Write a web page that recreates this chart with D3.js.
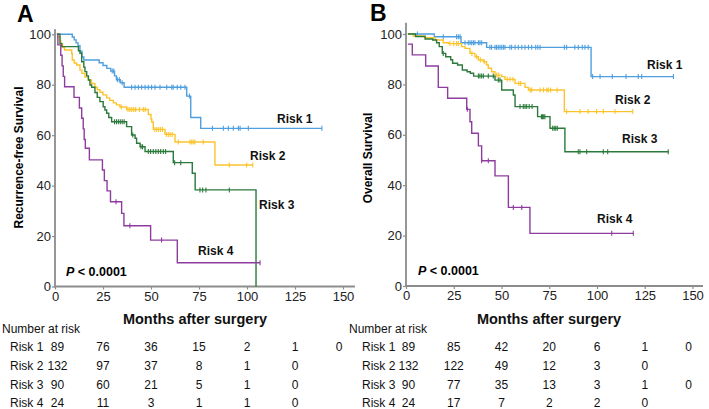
<!DOCTYPE html>
<html><head><meta charset="utf-8">
<script src="https://cdn.jsdelivr.net/npm/d3@7"></script>
<style>body{margin:0;background:#fff}svg{display:block;font-family:Arial,"Liberation Sans",sans-serif}</style>
</head><body><svg id="c" width="709" height="409"></svg>
<script>
// ---------- DATA ----------
const timeTicks = [0,25,50,75,100,125,150];
const survTicks = [0,20,40,60,80,100];
const riskNames = ["Risk 1","Risk 2","Risk 3","Risk 4"];
const colors = ["#4f9fdf","#fcc42c","#2b7a3b","#8e3d9e"];

// Panel A: recurrence-free survival, steps [time, survival%]
const rfsRisk1 = [[1,100],[9,98.9],[10,97.8],[11,96.6],[12,95.5],[13,93.3],[14,91.0],[15,89.8],[23,88.7],[25,87.6],[27,86.5],[29,85.4],[31,83.5],[32,82.0],[34,80.8],[36,79.0],[68.6,75.5],[70.7,67],[75.9,62.7]];
const rfsRisk1End = 139;
const rfsRisk1Cens = [29.8,30.6,32.5,33.5,35,39.9,41.7,43.4,45.1,46.9,48.6,50.3,52.1,54.7,58.2,60.8,61.6,63.7,65.5,67.7,70,82,87.7,90.3,92.9,95.5,96.4,100.7,139];
const rfsRisk2 = [[1,100],[1.5,99],[2.5,97.7],[3,96.2],[4,94.7],[5,93.8],[8.7,92.4],[9,89.8],[10,88.6],[11.3,87.8],[13,85.8],[14,84.5],[15.6,83],[17.4,81.9],[19,80.5],[20.8,79],[22,78],[23.4,77],[25,76],[26.9,74.8],[28.5,73.8],[30.4,72.8],[32,72],[33.8,71.2],[37.3,70.2],[48.6,68.2],[50,66.5],[50.4,65.2],[51.2,62.3],[57.3,60.3],[62.5,57.3],[83.3,48.2]];
const rfsRisk2End = 103;
const rfsRisk2Cens = [34.5,38,39,40,41,42,44,46,47,52,53,54,55,56,58,59,60,61,64.2,70.3,71.2,72,72.9,77.2,90.8,99.8,103];
const rfsRisk3 = [[1,100],[2.6,96.4],[3.5,95.1],[12.2,93.5],[13,92.5],[13.9,89.1],[15,87],[15.6,85.2],[16.5,83.5],[17.4,81.9],[18.2,79.9],[19.1,79],[20.8,76.9],[22,75],[23.4,73.3],[25.1,71.3],[26,70],[26.9,68.7],[28,67],[29.5,65.3],[37.3,63.4],[39.9,60.1],[41.7,58.8],[42.5,56.8],[44.3,55.4],[46.9,53.5],[61.6,49.1],[71.5,44.9],[73,38.3],[104.7,0]];
const rfsRisk3End = 104.7;
const rfsRisk3Cens = [31,32,33,34,35,36,40.5,44.8,45.6,48.6,49.8,51.2,52.5,53.8,55,56.4,57.6,62.3,65.5,75.5,76.9,78.6,90.8];
const rfsRisk4 = [[1,100],[1.5,95.8],[3,91.7],[3.7,87.5],[4.3,83.3],[5,79.2],[9.9,75],[12.7,70.8],[13.9,66.7],[14.7,62.5],[15.2,58.3],[15.8,54.8],[17.9,50.2],[24.7,46.2],[25.7,42],[27.1,37.9],[28.9,33.6],[34.7,29],[35.9,24.1],[49.8,18.4],[63.7,9.4]];
const rfsRisk4End = 106.8;
const rfsRisk4Cens = [31.8,39,55.5,106.8];

// Panel B: overall survival
const osRisk1 = [[1,100],[14.8,98.9],[28.8,96.5],[42.2,94.7],[96.9,83.1]];
const osRisk1End = 140;
const osRisk1Cens = [6,19.5,26.5,27.4,28.3,30.9,32.6,33.5,34.4,35.3,36.1,37.9,38.7,39.6,43.9,44.8,46.6,47.4,48.3,49.2,50.1,51,51.8,54.4,55.3,57.1,58.8,60.6,62.3,64.1,65.8,67.9,69,70.2,82.9,84.1,88.4,90.2,92.3,93.7,95.4,97.7,101.6,108,115.2,121.6,123.4,140];
const osRisk2 = [[1,100],[3.8,99.2],[9.9,98.5],[15.2,97.6],[19.5,96.5],[22.2,96.2],[29.1,95],[30.9,94.3],[33.5,92.3],[36.1,91],[37.9,89.7],[40.5,89],[42.2,87.7],[43.1,86.4],[44.8,85],[46.6,83.7],[50.1,83.1],[51.8,82],[57.1,80.4],[62.3,78.8],[64.1,77.8],[82.9,69.2]];
const osRisk2End = 118.7;
const osRisk2Cens = [23,25,26.5,27.4,34.5,37,39,41,47.5,48.5,53,54.5,56,59,60,65,65.8,70.2,72,73.7,74.5,75.7,79.1,84.1,91.1,95.4,99.8,103.3,109.4,118.7];
const osRisk3 = [[1,100],[5,99],[10,98],[14,97.6],[16,96.5],[17.4,95],[19,92.3],[20.8,91],[23.4,89.8],[24.4,88.4],[27,87.7],[29.5,85.7],[32,85],[33.7,84.4],[35.4,83.3],[46.6,81.7],[50.1,77.8],[56.2,75.8],[57.1,71.2],[68.9,67.2],[75.4,62.6],[83.2,53.3]];
const osRisk3End = 137.3;
const osRisk3Cens = [19.5,37.9,38.7,39.6,40.5,43.1,45.7,48.3,49.2,59.7,61.4,62.3,63.2,64.5,66,70.9,71.5,72.1,72.7,76.8,77.6,78.4,79.2,90.2,91.1,94.6,103.3,105.6,137.3];
const osRisk4 = [[1,96],[3.3,91.7],[10.3,87.3],[16.9,78.8],[21.8,74.5],[31.8,70.1],[33.5,65.2],[34.4,60.6],[37.9,55.6],[39.6,49.7],[46.6,43.7],[53.6,31.2],[64.9,20.9]];
const osRisk4End = 119;
const osRisk4Cens = [32.1,39.6,43.1,56.2,60.6,107.7,119];

const atRiskA = [[89,76,36,15,2,1,0],[132,97,37,8,1,0],[90,60,21,5,1,0],[24,11,3,1,1,0]];
const atRiskB = [[89,85,42,20,6,1,0],[132,122,49,12,3,0],[90,77,35,13,3,1,0],[24,17,7,2,2,0]];

// ---------- DRAW ----------
const svg = d3.select("#c");
const panels = [
  {letter:"A", ytitle:"Recurrence-free Survival",
   curves:[[rfsRisk1,rfsRisk1End,rfsRisk1Cens],[rfsRisk2,rfsRisk2End,rfsRisk2Cens],[rfsRisk3,rfsRisk3End,rfsRisk3Cens],[rfsRisk4,rfsRisk4End,rfsRisk4Cens]],
   atRisk:atRiskA, xr:[55,343], yr:[286.5,34.3], axisTopV:102, xEndV:156.2,
   letterPos:[17,22], ytitlePos:[23,157.5], xtitleX:195, tableX:[2,10],
   labelPos:[[277,118.7],[250,156],[259,205],[198,250.7]], pPos:[66,276]},
  {letter:"B", ytitle:"Overall Survival",
   curves:[[osRisk1,osRisk1End,osRisk1Cens],[osRisk2,osRisk2End,osRisk2Cens],[osRisk3,osRisk3End,osRisk3Cens],[osRisk4,osRisk4End,osRisk4Cens]],
   atRisk:atRiskB, xr:[406,692.5], yr:[286,34], axisTopV:104.5, xEndV:155.5,
   letterPos:[370,21], ytitlePos:[372,158], xtitleX:549, tableX:[349,362],
   labelPos:[[647,65],[615,100],[622,139],[597,219]], pPos:[418,275]}
];

function survAt(steps, t){
  let s = steps[0][1];
  for (const [tt,ss] of steps){ if (tt<=t) s=ss; }
  return s;
}

panels.forEach(p=>{
  const x = d3.scaleLinear().domain([0,150]).range(p.xr);
  const y = d3.scaleLinear().domain([0,100]).range(p.yr);
  const g = svg.append("g");

  // axes
  const gx = g.append("g").attr("transform",`translate(0,${y(0)})`)
    .call(d3.axisBottom(x).tickValues(timeTicks).tickSize(3).tickPadding(2));
  gx.select(".domain").remove();
  gx.selectAll(".tick line").attr("stroke","#8c8c8c").attr("stroke-width",1.2);
  gx.selectAll(".tick text").attr("font-size",13).attr("fill","#222").attr("font-family","Arial, Liberation Sans, sans-serif");
  const gy = g.append("g").attr("transform",`translate(${x(0)},0)`)
    .call(d3.axisLeft(y).tickValues(survTicks).tickSize(3).tickPadding(1));
  gy.select(".domain").remove();
  gy.selectAll(".tick line").attr("stroke","#8c8c8c").attr("stroke-width",1.2);
  gy.selectAll(".tick text").attr("font-size",13).attr("fill","#222").attr("font-family","Arial, Liberation Sans, sans-serif");
  g.append("line").attr("x1",x(0)).attr("x2",x(p.xEndV)).attr("y1",y(0)).attr("y2",y(0))
    .attr("stroke","#8c8c8c").attr("stroke-width",1.8);
  g.append("line").attr("x1",x(0)).attr("x2",x(0)).attr("y1",y(0)+0.9).attr("y2",y(p.axisTopV))
    .attr("stroke","#8c8c8c").attr("stroke-width",1.8);

  // curves
  const line = d3.line().x(d=>x(d[0])).y(d=>y(d[1])).curve(d3.curveStepAfter);
  p.curves.forEach((c,i)=>{
    const [steps,end,cens] = c;
    const pts = steps.concat([[end, steps[steps.length-1][1]]]);
    g.append("path").attr("d",line(pts)).attr("fill","none")
      .attr("stroke",colors[i]).attr("stroke-width",1.4);
    g.selectAll(null).data(cens).enter().append("line")
      .attr("x1",d=>x(d)).attr("x2",d=>x(d))
      .attr("y1",d=>y(survAt(steps,d))-2.5).attr("y2",d=>y(survAt(steps,d))+2.5)
      .attr("stroke",colors[i]).attr("stroke-width",1.1);
    g.append("text").attr("x",p.labelPos[i][0]).attr("y",p.labelPos[i][1]+4.3)
      .attr("font-size",12).attr("font-weight","bold").attr("fill","#111").text(riskNames[i]);
  });

  // texts
  g.append("text").attr("x",p.letterPos[0]).attr("y",p.letterPos[1])
    .attr("font-size",23).attr("font-weight","bold").attr("fill","#000").text(p.letter);
  g.append("text").attr("transform",`translate(${p.ytitlePos[0]},${p.ytitlePos[1]}) rotate(-90)`)
    .attr("text-anchor","middle").attr("font-size",12).attr("font-weight","bold").attr("fill","#000").text(p.ytitle);
  g.append("text").attr("x",p.xtitleX).attr("y",323.5).attr("text-anchor","middle")
    .attr("font-size",14.5).attr("font-weight","bold").attr("fill","#111").text("Months after surgery");
  const pt = g.append("text").attr("x",p.pPos[0]).attr("y",p.pPos[1])
    .attr("font-size",12.5).attr("font-weight","bold").attr("fill","#000");
  pt.append("tspan").attr("font-style","italic").text("P");
  pt.append("tspan").text(" < 0.0001");

  // number at risk table
  g.append("text").attr("x",p.tableX[0]).attr("y",332.5).attr("font-size",12).attr("fill","#111").text("Number at risk");
  p.atRisk.forEach((row,ri)=>{
    const yy = 351 + ri*18.8;
    g.append("text").attr("x",p.tableX[1]).attr("y",yy).attr("font-size",12).attr("fill","#111").text(riskNames[ri]);
    g.selectAll(null).data(row).enter().append("text")
      .attr("x",(d,j)=>x(timeTicks[j]) + (j===0 ? 2.5 : (j===6 ? -4 : 0))).attr("y",yy).attr("text-anchor","middle")
      .attr("font-size",12).attr("fill","#111").text(d=>d);
  });
});
</script></body></html>
